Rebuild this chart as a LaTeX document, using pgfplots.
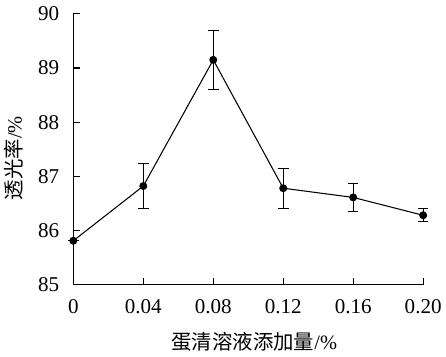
\documentclass[border=0pt]{standalone}
\usepackage{pgfplots}
\pgfplotsset{compat=1.18}
\usepackage{fontspec}
\setmainfont{Liberation Serif}
\newfontfamily\cjk{Noto Sans CJK SC}
\begin{document}
\begin{tikzpicture}
\begin{axis}[
  scale only axis,
  width=265.5pt, height=205.5pt,
  xmin=0, xmax=0.20, ymin=85, ymax=90,
  axis x line*=bottom, axis y line*=left,
  axis line style={line width=0.8pt, -},
  xtick={0,0.04,0.08,0.12,0.16,0.20},
  xticklabels={0,0.04,0.08,0.12,0.16,0.20},
  ytick={85,86,87,88,89,90},
  tick align=inside,
  major tick length=5pt,
  tick style={line width=0.8pt, black},
  ticklabel style={font=\rmfamily\fontsize{16pt}{16pt}\selectfont},
  /pgf/number format/assume math mode=true,
  xticklabel style={anchor=center, yshift=-16.5pt},
  yticklabel style={anchor=east, inner sep=0pt, xshift=-10.5pt},
  xlabel={\cjk 蛋清溶液添加量\rmfamily/\%},
  ylabel={\cjk 透光率\rmfamily/\%},
  every axis x label/.style={at={(axis description cs:0.517,-0.21)}, anchor=center, font=\fontsize{15.5pt}{16pt}\selectfont},
  every axis y label/.style={at={(axis description cs:-0.17,0.467)}, anchor=center, rotate=90, font=\fontsize{15.5pt}{16pt}\selectfont},
  clip=false,
]
\addplot[black, line width=0.8pt, mark=*, mark size=2.6pt,
  error bars/.cd, y dir=both, y explicit,
  error bar style={line width=0.8pt, black},
  error mark options={rotate=90, mark size=4pt, line width=0.8pt}]
  table[x=x, y=y, y error=e] {
  x y e
  0 85.81 0
  0.04 86.82 0.42
  0.08 89.15 0.55
  0.12 86.78 0.37
  0.16 86.61 0.26
  0.20 86.28 0.12
};
\coordinate (ll) at (rel axis cs:0,0);
\coordinate (ur) at (rel axis cs:1,1);
\end{axis}
\path ([shift={(-53.25pt,-54.75pt)}]ll) rectangle ([shift={(15.75pt,10.5pt)}]ur);
\end{tikzpicture}
\end{document}
